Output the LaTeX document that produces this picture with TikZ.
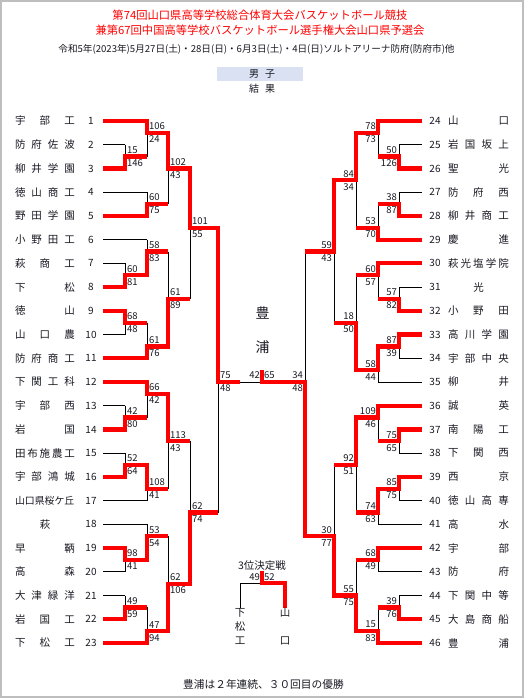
\documentclass[tikz,border=0pt]{standalone}
\usepackage{fontspec}
\setmainfont{Noto Sans CJK JP}
\pgfdeclarelayer{bg}
\pgfdeclarelayer{blk}
\pgfsetlayers{bg,blk,main}
\definecolor{wred}{RGB}{255,0,0}
\definecolor{hdr}{RGB}{217,225,242}
\definecolor{frm}{RGB}{190,190,190}
\definecolor{ink}{RGB}{25,25,35}
\tikzset{
 rd/.style={draw=wred,line width=4.2pt,line join=miter},
 bl/.style={draw=black,line width=0.9pt},
 nm/.style={inner sep=0,text=ink,font=\fontsize{10.5}{12}\selectfont},
 num/.style={inner sep=0,text=ink,font=\fontsize{10}{12}\selectfont},
 sc/.style={inner sep=0,text=ink,font=\fontsize{9.5}{11}\selectfont},
 ttl/.style={inner sep=0,text=wred,font=\fontsize{11.3}{13}\selectfont},
 big/.style={inner sep=0,text=ink,font=\fontsize{14}{16}\selectfont},
}
\newcounter{scn}
\newcommand\TL[4]{%
 \node[num] (n#1) at (91,#2) {#1};
 \node[nm] (t#1) at (45,#2) {\makebox[60pt][s]{#4}};
 \coordinate (s#1) at (103,#2);
 \begin{pgfonlayer}{blk}\draw[bl] (s#1) -- (#3,#2);\end{pgfonlayer}
}
\newcommand\TR[4]{%
 \node[num] (n#1) at (435,#2) {#1};
 \node[nm] (t#1) at (478.5,#2) {\makebox[61pt][s]{#4}};
 \coordinate (s#1) at (422,#2);
 \begin{pgfonlayer}{blk}\draw[bl] (s#1) -- (#3,#2);\end{pgfonlayer}
}
\newcommand\MT[7]{%
 \begin{pgfonlayer}{blk}\draw[bl] (#1,#2) -- (#1,#3);\end{pgfonlayer}
 \draw[rd] (#5,#6) -| (#1,#4) -- (#7,#4);
}
\newcommand\SL[4]{%
 \stepcounter{scn}%
 \node[sc,anchor=west] (su\thescn) at ([xshift=2pt,yshift=6.5pt]#1,#2) {#3};
 \node[sc,anchor=west] (sd\thescn) at ([xshift=2pt,yshift=-6.5pt]#1,#2) {#4};
}
\newcommand\SR[4]{%
 \stepcounter{scn}%
 \node[sc,anchor=east] (su\thescn) at ([xshift=-2pt,yshift=6.5pt]#1,#2) {#3};
 \node[sc,anchor=east] (sd\thescn) at ([xshift=-2pt,yshift=-6.5pt]#1,#2) {#4};
}
\begin{document}
\begin{tikzpicture}[x=1pt,y=-1pt]
\useasboundingbox (0,0) rectangle (526,699);
\begin{pgfonlayer}{bg}
\fill[white] (0,0) rectangle (526,699);
\draw[frm,line width=1.2pt] (1,1) rectangle (523,697);
\end{pgfonlayer}
% titles
\node[ttl] (h1) at (260,15) {第74回山口県高等学校総合体育大会バスケットボール競技};
\node[ttl] (h2) at (260,30) {兼第67回中国高等学校バスケットボール選手権大会山口県予選会};
\node[inner sep=0,text=ink,font=\fontsize{9.6}{11}\selectfont] (h3) at (256.5,49) {令和5年(2023年)5月27日(土)・28日(日)・6月3日(土)・4日(日)ソルトアリーナ防府(防府市)他};
\fill[hdr] (217,67) rectangle (303,81);
\node[nm,font=\fontsize{10}{12}\selectfont] (hb) at (262,74) {\makebox[26pt][s]{男\hfill 子}};
\node[nm,font=\fontsize{10}{12}\selectfont] (hc) at (262,89) {\makebox[26pt][s]{結\hfill 果}};
\begin{scope}[x=1pt,y=-23.727pt,shift={(0pt,-97.273pt)}]
% left teams
\TL{1}{1}{147}{宇\hfill 部\hfill 工}
\TL{2}{2}{125}{防\hfill 府\hfill 佐\hfill 波}
\TL{3}{3}{125}{柳\hfill 井\hfill 学\hfill 園}
\TL{4}{4}{147}{徳\hfill 山\hfill 商\hfill 工}
\TL{5}{5}{147}{野\hfill 田\hfill 学\hfill 園}
\TL{6}{6}{147}{小\hfill 野\hfill 田\hfill 工}
\TL{7}{7}{125}{萩\hfill 商\hfill 工}
\TL{8}{8}{125}{下\hfill 松}
\TL{9}{9}{125}{徳\hfill 山}
\TL{10}{10}{125}{山\hfill 口\hfill 農}
\TL{11}{11}{147}{防\hfill 府\hfill 商\hfill 工}
\TL{12}{12}{147}{下\hfill 関\hfill 工\hfill 科}
\TL{13}{13}{125}{宇\hfill 部\hfill 西}
\TL{14}{14}{125}{岩\hfill 国}
\TL{15}{15}{125}{田\hfill 布\hfill 施\hfill 農\hfill 工}
\TL{16}{16}{125}{宇\hfill 部\hfill 鴻\hfill 城}
\TL{17}{17}{147}{\fontsize{9.9}{11}\selectfont 山口県桜ケ丘}
\TL{18}{18}{147}{\hfill 萩\hfill}
\TL{19}{19}{125}{早\hfill 鞆}
\TL{20}{20}{125}{高\hfill 森}
\TL{21}{21}{125}{大\hfill 津\hfill 緑\hfill 洋}
\TL{22}{22}{125}{岩\hfill 国\hfill 工}
\TL{23}{23}{147}{下\hfill 松\hfill 工}
% right teams
\TR{24}{1}{378}{山\hfill 口}
\TR{25}{2}{399}{岩\hfill 国\hfill 坂\hfill 上}
\TR{26}{3}{399}{聖\hfill 光}
\TR{27}{4}{399}{防\hfill 府\hfill 西}
\TR{28}{5}{399}{柳\hfill 井\hfill 商\hfill 工}
\TR{29}{6}{378}{慶\hfill 進}
\TR{30}{7}{378}{萩\hfill 光\hfill 塩\hfill 学\hfill 院}
\TR{31}{8}{399}{\hfill 光\hfill}
\TR{32}{9}{399}{小\hfill 野\hfill 田}
\TR{33}{10}{399}{高\hfill 川\hfill 学\hfill 園}
\TR{34}{11}{399}{宇\hfill 部\hfill 中\hfill 央}
\TR{35}{12}{378}{柳\hfill 井}
\TR{36}{13}{378}{誠\hfill 英}
\TR{37}{14}{399}{南\hfill 陽\hfill 工}
\TR{38}{15}{399}{下\hfill 関\hfill 西}
\TR{39}{16}{399}{西\hfill 京}
\TR{40}{17}{399}{徳\hfill 山\hfill 高\hfill 専}
\TR{41}{18}{378}{高\hfill 水}
\TR{42}{19}{378}{宇\hfill 部}
\TR{43}{20}{378}{防\hfill 府}
\TR{44}{21}{399}{下\hfill 関\hfill 中\hfill 等}
\TR{45}{22}{399}{大\hfill 島\hfill 商\hfill 船}
\TR{46}{23}{378}{豊\hfill 浦}
% left matches
\MT{125}{2}{3}{2.5}{103}{3}{147}
\MT{147}{1}{2.5}{1.5}{103}{1}{168}
\MT{147}{4}{5}{4.5}{103}{5}{168}
\MT{168}{1.5}{4.5}{3}{147}{1.5}{190}
\MT{125}{7}{8}{7.5}{103}{8}{147}
\MT{147}{6}{7.5}{6.5}{125}{7.5}{168}
\MT{125}{9}{10}{9.5}{103}{9}{147}
\MT{147}{9.5}{11}{10.5}{103}{11}{168}
\MT{168}{6.5}{10.5}{8.5}{147}{10.5}{190}
\MT{190}{3}{8.5}{5.5}{168}{3}{218}
\MT{125}{13}{14}{13.5}{103}{14}{147}
\MT{147}{12}{13.5}{12.5}{103}{12}{168}
\MT{125}{15}{16}{15.5}{103}{16}{147}
\MT{147}{15.5}{17}{16.5}{125}{15.5}{168}
\MT{168}{12.5}{16.5}{14.5}{147}{12.5}{190}
\MT{125}{19}{20}{19.5}{103}{19}{147}
\MT{147}{18}{19.5}{18.5}{125}{19.5}{168}
\MT{125}{21}{22}{21.5}{103}{22}{147}
\MT{147}{21.5}{23}{22.5}{103}{23}{168}
\MT{168}{18.5}{22.5}{20.5}{147}{22.5}{190}
\MT{190}{14.5}{20.5}{17.5}{168}{20.5}{218}
\MT{218}{5.5}{17.5}{12}{190}{5.5}{240}
% right matches
\MT{399}{2}{3}{2.5}{422}{3}{378}
\MT{378}{1}{2.5}{1.5}{422}{1}{356}
\MT{399}{4}{5}{4.5}{422}{5}{378}
\MT{378}{4.5}{6}{5.5}{422}{6}{356}
\MT{356}{1.5}{5.5}{3.5}{378}{1.5}{334}
\MT{399}{8}{9}{8.5}{422}{9}{378}
\MT{378}{7}{8.5}{7.5}{422}{7}{356}
\MT{399}{10}{11}{10.5}{422}{10}{378}
\MT{378}{10.5}{12}{11.5}{399}{10.5}{356}
\MT{356}{7.5}{11.5}{9.5}{378}{11.5}{334}
\MT{334}{3.5}{9.5}{6.5}{356}{3.5}{305}
\MT{399}{14}{15}{14.5}{422}{14}{378}
\MT{378}{13}{14.5}{13.5}{422}{13}{356}
\MT{399}{16}{17}{16.5}{422}{16}{378}
\MT{378}{16.5}{18}{17.5}{399}{16.5}{356}
\MT{356}{13.5}{17.5}{15.5}{378}{13.5}{334}
\MT{378}{19}{20}{19.5}{422}{19}{356}
\MT{399}{21}{22}{21.5}{422}{22}{378}
\MT{378}{21.5}{23}{22.5}{422}{23}{356}
\MT{356}{19.5}{22.5}{21}{378}{22.5}{334}
\MT{334}{15.5}{21}{18.5}{356}{21}{305}
% final
\begin{pgfonlayer}{blk}
\draw[bl] (240,12) -- (262,12);
\draw[bl] (305,6.5) -- (305,18.5);
\end{pgfonlayer}
\draw[rd] (334,18.5) -| (305,12) -- (262,12) -- (262,11.5);
% scores left
\SL{125}{2.5}{15}{146}
\SL{147}{1.5}{106}{24}
\SL{147}{4.5}{60}{75}
\SL{168}{3}{102}{43}
\SL{125}{7.5}{60}{81}
\SL{147}{6.5}{58}{83}
\SL{125}{9.5}{68}{48}
\SL{147}{10.5}{61}{76}
\SL{168}{8.5}{61}{89}
\SL{190}{5.5}{101}{55}
\SL{125}{13.5}{42}{80}
\SL{147}{12.5}{66}{42}
\SL{125}{15.5}{52}{64}
\SL{147}{16.5}{108}{41}
\SL{168}{14.5}{113}{43}
\SL{125}{19.5}{98}{41}
\SL{147}{18.5}{53}{54}
\SL{125}{21.5}{49}{59}
\SL{147}{22.5}{47}{94}
\SL{168}{20.5}{62}{106}
\SL{190}{17.5}{62}{74}
\SL{218}{12}{75}{48}
% scores right
\SR{399}{2.5}{50}{126}
\SR{378}{1.5}{78}{73}
\SR{399}{4.5}{38}{87}
\SR{378}{5.5}{53}{70}
\SR{356}{3.5}{84}{34}
\SR{399}{8.5}{57}{82}
\SR{378}{7.5}{60}{57}
\SR{399}{10.5}{87}{39}
\SR{378}{11.5}{58}{44}
\SR{356}{9.5}{18}{50}
\SR{334}{6.5}{59}{43}
\SR{399}{14.5}{75}{65}
\SR{378}{13.5}{109}{46}
\SR{399}{16.5}{85}{75}
\SR{378}{17.5}{74}{63}
\SR{356}{15.5}{92}{51}
\SR{378}{19.5}{68}{49}
\SR{399}{21.5}{39}{76}
\SR{378}{22.5}{15}{83}
\SR{356}{21}{55}{75}
\SR{334}{18.5}{30}{77}
\SR{305}{12}{34}{48}
\node[sc,anchor=east] (fl) at ([xshift=-2pt,yshift=6.5pt]262,12) {42};
\node[sc,anchor=west] (fr) at ([xshift=2pt,yshift=6.5pt]262,12) {65};
\end{scope}
% champion
\node[big] (c1) at (262.5,313) {豊};
\node[big] (c2) at (262.5,347) {浦};
% third place
\node[nm] (tp) at (262,566) {3位決定戦};
\node[sc,anchor=east] (tpa) at (260,577) {49};
\node[sc,anchor=west] (tpb) at (264,577) {52};
\coordinate (tpm) at (262,583);
\coordinate (tpl) at (240,608);
\coordinate (tpr) at (285,608);
\begin{pgfonlayer}{blk}\draw[bl] (tpm) -| (tpl);\end{pgfonlayer}
\draw[rd] (262,571) -- (tpm) -| (tpr);
\node[nm] (v1) at (240,613) {下};
\node[nm] (v2) at (240,627) {松};
\node[nm] (v3) at (240,641) {工};
\node[nm] (v4) at (285,613) {山};
\node[nm] (v5) at (285,641) {口};
% footer
\node[nm,anchor=west,font=\fontsize{10.7}{12}\selectfont] (ft) at (183,684) {豊浦は２年連続、３０回目の優勝};
\end{tikzpicture}
\end{document}
